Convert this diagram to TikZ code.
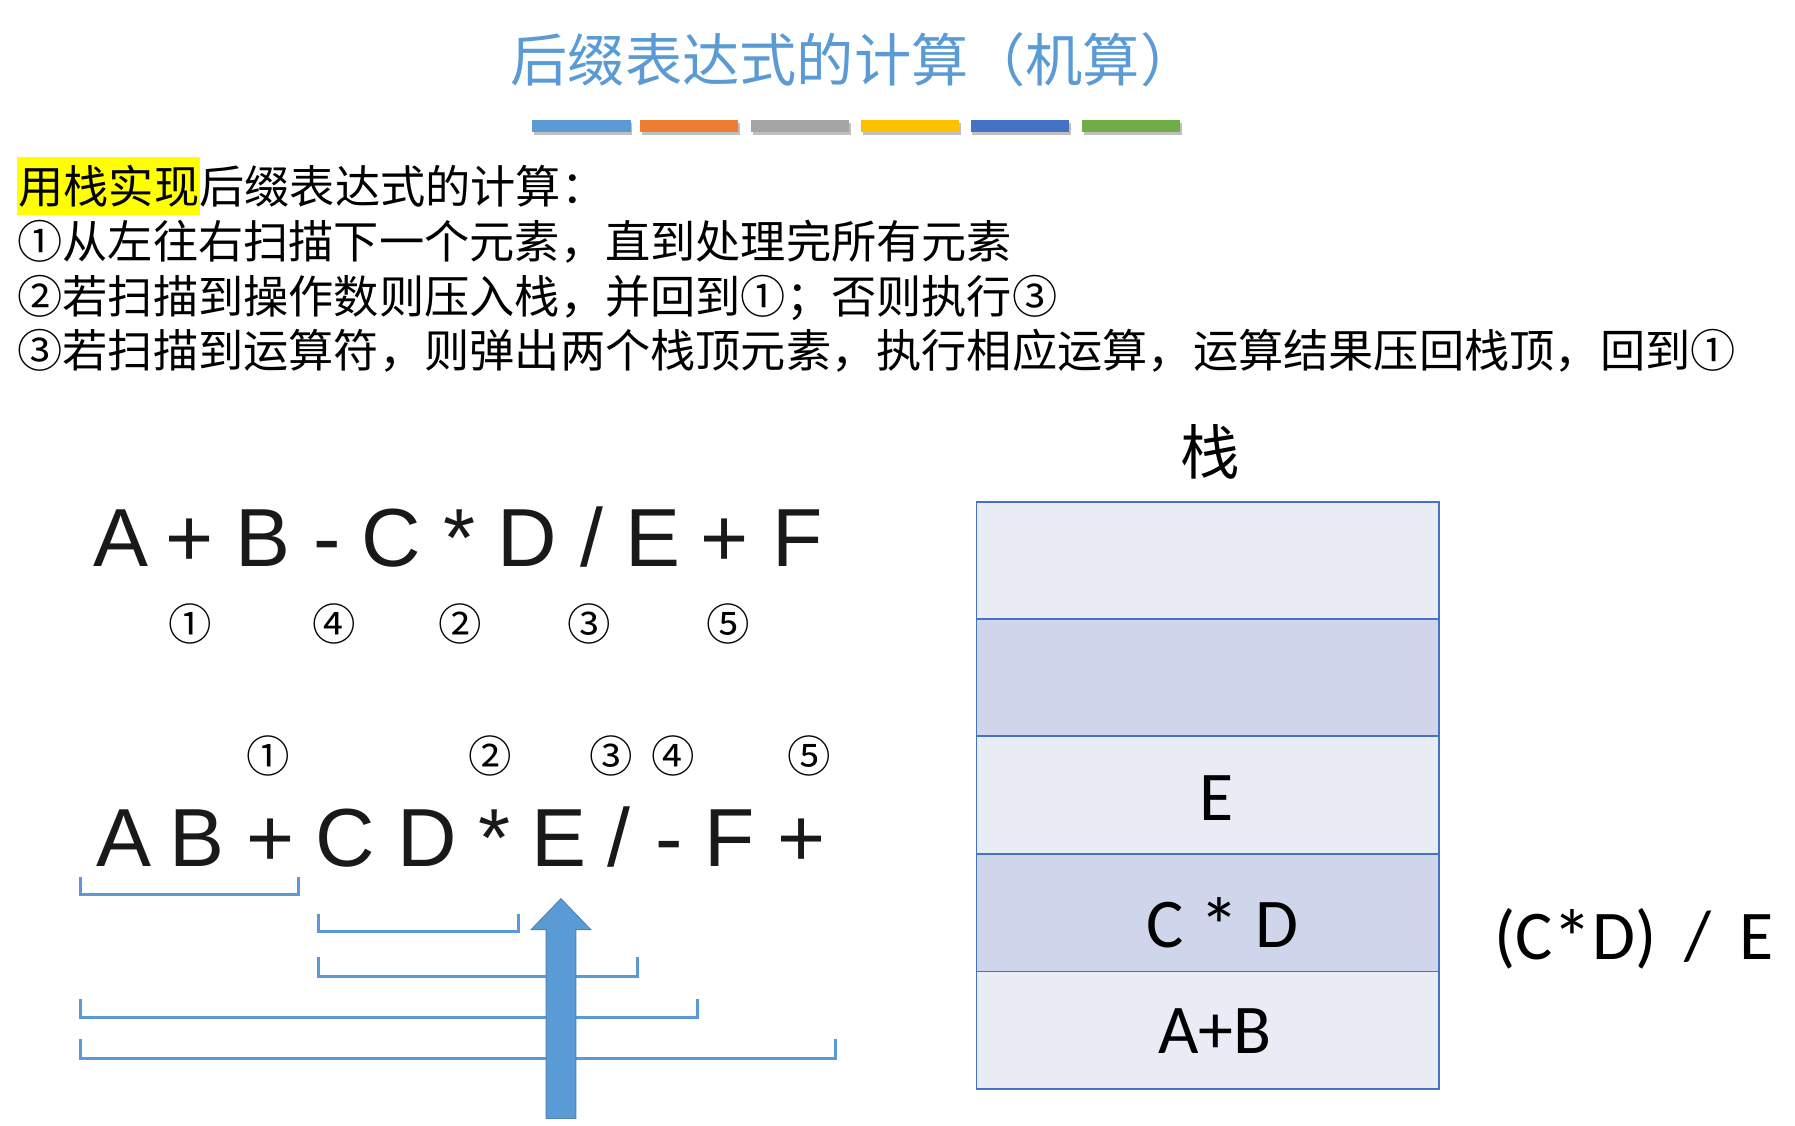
\documentclass[tikz,border=0pt]{standalone}
\usepackage{fontspec}
\newfontfamily\cjk{Noto Sans CJK SC}
\newfontfamily\arialf{Liberation Sans}
\newfontfamily\calib{Carlito}
\definecolor{tblue}{HTML}{5B9BD5}
\definecolor{borange}{HTML}{ED7D31}
\definecolor{bgray}{HTML}{A5A5A5}
\definecolor{bgold}{HTML}{FFC000}
\definecolor{bdblue}{HTML}{4472C4}
\definecolor{bgreen}{HTML}{70AD47}
\definecolor{rowlight}{HTML}{E9ECF5}
\definecolor{rowdark}{HTML}{CFD5EA}
\definecolor{hl}{HTML}{FFFF00}
\newcommand{\bigast}{\raisebox{-0.1em}{\scalebox{1.15}{*}}}
\begin{document}
\begin{tikzpicture}[x=1pt,y=-1pt,
  cjkline/.style={anchor=west, inner sep=0pt, font=\cjk\fontsize{39.5}{40}\selectfont, text height=34.8pt, text depth=4.7pt},
  expch/.style={anchor=base, inner sep=0pt, font=\arialf\fontsize{72}{72}\selectfont, text=black!90},
  circnum/.style={inner sep=0pt, font=\cjk\fontsize{38}{38}\selectfont},
  stacktxt/.style={anchor=base, inner sep=0pt, font=\calib\fontsize{61}{61}\selectfont},
  bracket/.style={draw=tblue, line width=2.7pt},
  colorbar/.style={minimum width=86pt, minimum height=10pt, inner sep=0pt, draw=none},
  stackrow/.style={minimum width=404pt, minimum height=102.6pt, inner sep=0pt, draw=bdblue, line width=1.6pt}
]
\useasboundingbox (0,0) rectangle (1568,983);
\fill[white] (0,0) rectangle (1568,983);

% title
\node[inner sep=0pt, font=\cjk\fontsize{50}{50}\selectfont, text=tblue] (title) at (746,52) {后缀表达式的计算（机算）};
\foreach \cx/\col [count=\i] in {508/tblue,602/borange,699/bgray,795/bgold,891/bdblue,988/bgreen}{
  \fill[black!25] (\cx-43+1.5,105+2.5) rectangle (\cx+43+1.5,115+2.5);
  \node[colorbar, fill=\col] (bar\i) at (\cx,110) {};
}

% body text
\fill[hl] (15,137) rectangle (175,188);
\node[cjkline] (l1) at (16,163) {用栈实现后缀表达式的计算：};
\node[cjkline] (l2) at (15,211) {①从左往右扫描下一个元素，直到处理完所有元素};
\node[cjkline] (l3) at (15,259) {②若扫描到操作数则压入栈，并回到①；否则执行③};
\node[cjkline] (l4) at (15,306) {③若扫描到运算符，则弹出两个栈顶元素，执行相应运算，运算结果压回栈顶，回到①};

% infix expression
\foreach \x/\c [count=\i] in {106/A,166/+,230/B,286/-,342/C,401/*,461/D,517/{/},570/E,633/+,697/F}{
  \node[expch] (in\i) at (\x,495) {\c};
}
\foreach \x/\c [count=\i] in {166/①,292/④,402/②,515/③,636/⑤}{
  \node[circnum] (ic\i) at (\x,545) {\c};
}

% postfix expression
\foreach \x/\c [count=\i] in {108/A,172/B,236/+,302/C,373/D,432/*,488/E,541/{/},585/-,637/F,700/+}{
  \node[expch] (po\i) at (\x,757) {\c};
}
\foreach \x/\c [count=\i] in {234/①,428/②,534/③,588/④,707/⑤}{
  \node[circnum] (pc\i) at (\x,660) {\c};
}

% brackets
\draw[bracket] (70,766) -- (70,781) -- (261,781) -- (261,766);
\draw[bracket] (278,798) -- (278,814) -- (453,814) -- (453,798);
\draw[bracket] (278,836) -- (278,853) -- (557,853) -- (557,836);
\draw[bracket] (70,873) -- (70,889) -- (609,889) -- (609,873);
\draw[bracket] (70,908) -- (70,925) -- (730,925) -- (730,908);

% scan arrow
\path[fill=tblue, draw=tblue!85!black, line width=0.8pt]
  (477,977) -- (477,812) -- (464,812) -- (490,785) -- (516,812) -- (503,812) -- (503,977) -- cycle;

% stack
\node[inner sep=0pt, font=\cjk\fontsize{52}{52}\selectfont] (stacklabel) at (1057,395) {栈};
\node[stackrow, fill=rowlight] (r1) at (1055,489.5) {};
\node[stackrow, fill=rowdark]  (r2) at (1055,592) {};
\node[stackrow, fill=rowlight] (r3) at (1055,694.5) {};
\node[stackrow, fill=rowdark]  (r4) at (1055,797.5) {};
\node[stackrow, fill=rowlight] (r5) at (1055,900) {};
\node[stacktxt] (tE) at (1063,717) {E};
\node[stacktxt] (tCD) at (1068,828) {C \bigast{} D};
\node[stacktxt] (tAB) at (1061,920) {A+B};
\node[stacktxt, anchor=base west] (res) at (1305,838) {(C\bigast{}D)\hspace{0.4em}/\hspace{0.4em}E};
\end{tikzpicture}
\end{document}
